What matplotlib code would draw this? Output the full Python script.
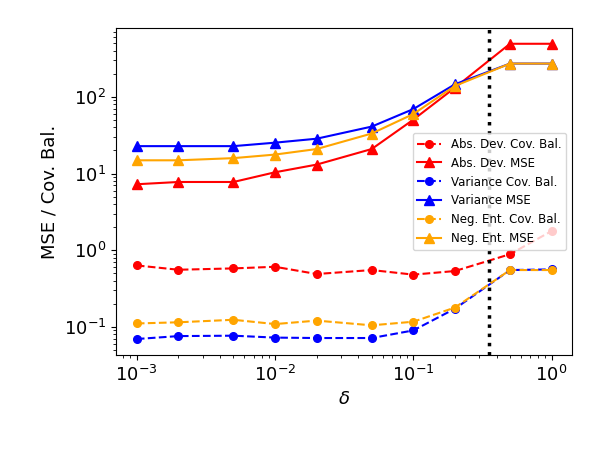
import numpy as np
import matplotlib
matplotlib.use('Agg')
import matplotlib.pyplot as plt

# regularisation strength
delta = [1e-3, 2e-3, 5e-3, 1e-2, 2e-2, 5e-2, 1e-1, 2e-1, 5e-1, 1.0]

absdev_cov = [0.634, 0.557, 0.58, 0.609, 0.49, 0.552, 0.481, 0.536, 0.888, 1.78]
absdev_mse = [7.26, 7.77, 7.77, 10.4, 13.1, 20.9, 50.5, 132, 493, 493]
var_cov = [0.0696, 0.076, 0.0769, 0.0726, 0.0717, 0.0717, 0.0901, 0.173, 0.552, 0.563]
var_mse = [22.8, 22.8, 22.8, 25.3, 28.5, 41, 69.4, 146, 272, 272]
negent_cov = [0.111, 0.115, 0.124, 0.109, 0.121, 0.105, 0.117, 0.179, 0.552, 0.552]
negent_mse = [14.9, 14.9, 15.9, 17.7, 20.9, 33.3, 59.8, 139, 272, 272]

delta_star = 0.35

fig = plt.figure(figsize=(6, 4.5), dpi=100)
ax = fig.add_axes([0.193, 0.211, 0.76, 0.727])

ax.plot(delta, absdev_cov, 'o--', color='red', label='Abs. Dev. Cov. Bal.', ms=5.5)
ax.plot(delta, absdev_mse, '^-', color='red', label='Abs. Dev. MSE', ms=6.5)
ax.plot(delta, var_cov, 'o--', color='blue', label='Variance Cov. Bal.', ms=5.5)
ax.plot(delta, var_mse, '^-', color='blue', label='Variance MSE', ms=6.5)
ax.plot(delta, negent_cov, 'o--', color='orange', label='Neg. Ent. Cov. Bal.', ms=5.5)
ax.plot(delta, negent_mse, '^-', color='orange', label='Neg. Ent. MSE', ms=6.5)
ax.axvline(delta_star, color='black', linestyle=':', linewidth=2.5)

ax.set_xscale('log')
ax.set_yscale('log')
ax.set_xlim(7.05e-4, 1.4)
ax.set_ylim(0.043, 794)
ax.tick_params(labelsize=13)
ax.set_xlabel(r'$\delta$', fontsize=13)
ax.set_ylabel('MSE / Cov. Bal.', fontsize=13)
ax.legend(loc='center right', fontsize=8.5)

fig.savefig('out.png', dpi=100)
